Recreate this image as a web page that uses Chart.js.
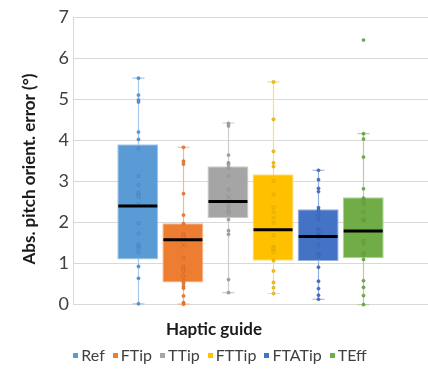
<!DOCTYPE html>
<html>
<head>
<meta charset="utf-8">
<script src="https://cdn.jsdelivr.net/npm/chart.js@4/dist/chart.umd.min.js"></script>
<style>
  html, body { margin: 0; padding: 0; background: #fff; }
  #wrap { width: 428px; height: 369px; }
</style>
</head>
<body>
<div id="wrap"><canvas id="boxChart"></canvas></div>
<script>
// series names and Office colours
const categories = ['Ref', 'FTip', 'TTip', 'FTTip', 'FTATip', 'TEff'];
const fillColors = ['#5B9BD5', '#ED7D31', '#A5A5A5', '#FFC000', '#4472C4', '#70AD47'];
const lightColors = ['#A9C9E8', '#F5B892', '#CDCDCD', '#FFDC7A', '#98B0DE', '#B3D49C'];
const darkColors = ['#2E6CA8', '#B8581C', '#777777', '#B88B00', '#2F5597', '#4E7F2E'];

// box statistics
const q1 = [1.10, 0.54, 2.10, 1.07, 1.06, 1.13];
const medians = [2.40, 1.58, 2.51, 1.82, 1.66, 1.79];
const q3 = [3.90, 1.98, 3.37, 3.17, 2.32, 2.61];
const whiskerLow = [0.02, 0.01, 0.29, 0.27, 0.13, 0.00];
const whiskerHigh = [5.51, 3.83, 4.42, 5.42, 3.27, 4.16];
const means = [2.45, 1.45, 2.61, 2.11, 1.69, 2.04];

// individual points
const refPoints = [5.51, 5.10, 4.98, 4.93, 4.20, 4.02, 3.80, 3.13, 2.91, 2.72, 2.67, 2.62, 1.98, 1.73, 1.47, 1.42, 1.37, 1.27, 0.93, 0.64, 0.02];
const fTipPoints = [3.83, 3.49, 3.42, 2.70, 2.18, 1.97, 1.72, 1.69, 1.63, 1.14, 0.93, 0.87, 0.82, 0.69, 0.58, 0.52, 0.45, 0.40, 0.21, 0.05, 0.01];
const tTipPoints = [4.41, 4.35, 3.64, 3.45, 3.41, 3.33, 3.13, 2.80, 2.40, 2.30, 2.26, 2.22, 2.07, 1.80, 1.71, 0.61, 0.29];
const fTTipPoints = [5.42, 4.51, 3.73, 3.45, 3.36, 3.01, 2.68, 2.37, 2.25, 1.99, 1.69, 1.40, 1.37, 1.32, 1.28, 1.07, 0.82, 0.54, 0.41, 0.27];
const fTATipPoints = [3.27, 3.04, 2.83, 2.75, 2.36, 2.30, 2.18, 2.07, 1.84, 1.79, 1.69, 1.63, 1.45, 1.23, 1.19, 0.91, 0.57, 0.39, 0.23, 0.13];
const tEffPoints = [6.44, 4.16, 4.03, 3.59, 2.82, 2.59, 2.53, 2.45, 2.25, 2.07, 1.55, 1.48, 1.25, 1.21, 1.10, 0.58, 0.42, 0.22, 0.00];
const allPoints = [refPoints, fTipPoints, tTipPoints, fTTipPoints, fTATipPoints, tEffPoints];

const yTicks = [0, 1, 2, 3, 4, 5, 6, 7];

// whiskers, medians, points and means around the floating bars
const boxExtras = {
  id: 'boxExtras',
  beforeDatasetsDraw(chart) {
    const ctx = chart.ctx;
    const y = chart.scales.y;
    ctx.save();
    categories.forEach((name, i) => {
      const bar = chart.getDatasetMeta(i).data[0];
      if (!bar) return;
      const x = Math.round(bar.x) + 0.5;
      const yLo = y.getPixelForValue(whiskerLow[i]);
      const yHi = y.getPixelForValue(whiskerHigh[i]);
      ctx.strokeStyle = lightColors[i];
      ctx.lineWidth = 1.2;
      ctx.beginPath();
      ctx.moveTo(x, yLo);
      ctx.lineTo(x, yHi);
      ctx.moveTo(x - 6, yLo);
      ctx.lineTo(x + 6, yLo);
      ctx.moveTo(x - 6, yHi);
      ctx.lineTo(x + 6, yHi);
      ctx.stroke();
    });
    ctx.restore();
  },
  afterDatasetsDraw(chart) {
    const ctx = chart.ctx;
    const y = chart.scales.y;
    ctx.save();
    categories.forEach((name, i) => {
      const bar = chart.getDatasetMeta(i).data[0];
      if (!bar) return;
      const x = Math.round(bar.x) + 0.5;
      const half = bar.width / 2;
      // points
      allPoints[i].forEach(v => {
        const py = y.getPixelForValue(v);
        ctx.beginPath();
        ctx.arc(x, py, 1.6, 0, Math.PI * 2);
        ctx.fillStyle = fillColors[i];
        ctx.fill();
        ctx.globalAlpha = 0.5;
        ctx.strokeStyle = darkColors[i];
        ctx.lineWidth = 0.8;
        ctx.stroke();
        ctx.globalAlpha = 1;
      });
      // mean marker
      const my = y.getPixelForValue(means[i]);
      ctx.globalAlpha = 0.4;
      ctx.strokeStyle = darkColors[i];
      ctx.lineWidth = 1;
      ctx.beginPath();
      ctx.moveTo(x - 2.5, my - 2.5);
      ctx.lineTo(x + 2.5, my + 2.5);
      ctx.moveTo(x - 2.5, my + 2.5);
      ctx.lineTo(x + 2.5, my - 2.5);
      ctx.stroke();
      ctx.globalAlpha = 1;
      // median
      const medY = y.getPixelForValue(medians[i]);
      ctx.strokeStyle = '#000000';
      ctx.lineWidth = 3;
      ctx.beginPath();
      ctx.moveTo(bar.x - half + 1, medY);
      ctx.lineTo(bar.x + half - 1, medY);
      ctx.stroke();
    });
    ctx.restore();
  }
};

// compact Excel-like legend (small squares, tight spacing)
const tightLegend = {
  id: 'tightLegend',
  afterDraw(chart) {
    const ctx = chart.ctx;
    ctx.save();
    ctx.font = '16px Lato';
    ctx.textBaseline = 'middle';
    const sq = 5, gap = 3, spacing = 8;
    const widths = categories.map(t => sq + gap + ctx.measureText(t).width);
    const total = widths.reduce((a, b) => a + b, 0) + spacing * (categories.length - 1);
    let x = (chart.width - total) / 2 + 6;
    const yc = chart.height - 14;
    categories.forEach((t, i) => {
      ctx.fillStyle = fillColors[i];
      ctx.fillRect(Math.round(x), Math.round(yc - sq / 2), sq, sq);
      ctx.fillStyle = '#404040';
      ctx.fillText(t, x + sq + gap, yc + 1);
      x += widths[i] + spacing;
    });
    ctx.restore();
  }
};

const datasets = categories.map((name, i) => ({
  label: name,
  data: [[q1[i], q3[i]]],
  backgroundColor: fillColors[i],
  borderColor: lightColors[i],
  borderWidth: 1,
  borderSkipped: false,
  categoryPercentage: 0.762,
  barPercentage: 0.91
}));

new Chart(document.getElementById('boxChart'), {
  type: 'bar',
  data: {
    labels: ['Haptic guide'],
    datasets: datasets
  },
  options: {
    responsive: true,
    maintainAspectRatio: false,
    animation: false,
    layout: {
      padding: { top: 17, right: 0, bottom: 0, left: 0 }
    },
    scales: {
      x: {
        display: false
      },
      y: {
        min: 0,
        max: 7,
        afterBuildTicks: (scale) => {
          scale.ticks = yTicks.map(v => ({ value: v }));
        },
        afterFit: (scale) => {
          scale.width = 73;
        },
        ticks: {
          padding: 4,
          color: '#404040',
          font: { family: 'Lato', size: 18 }
        },
        grid: {
          color: '#D9D9D9',
          drawTicks: false
        },
        border: { display: true, color: '#D9D9D9' },
        title: {
          display: true,
          text: 'Abs. pitch orient. error (°)\u00A0\u00A0\u00A0\u00A0',
          color: '#1A1A1A',
          font: { family: 'Lato', size: 17, weight: 'bold' },
          padding: { top: 19, bottom: 0 }
        }
      }
    },
    plugins: {
      tooltip: { enabled: false },
      legend: { display: false },
      title: {
        display: true,
        position: 'bottom',
        text: 'Haptic guide',
        color: '#1A1A1A',
        font: { family: 'Lato', size: 17, weight: 'bold' },
        padding: { top: 15, bottom: 29 }
      }
    }
  },
  plugins: [boxExtras, tightLegend]
});
</script>
</body>
</html>
